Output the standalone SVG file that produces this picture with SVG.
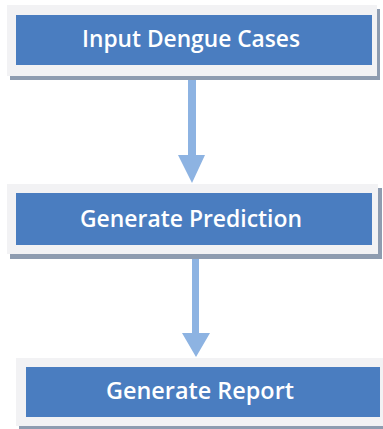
<svg xmlns="http://www.w3.org/2000/svg" width="383" height="429" viewBox="0 0 383 429">
  <style>
    .shadow { fill: #8e9cb0; }
    .frame { fill: #f2f2f4; }
    .fill { fill: #4a7dc0; }
    .label { fill: #ffffff; font-family: "Open Sans", "Liberation Sans", sans-serif; font-weight: 600; font-size: 23px; text-anchor: middle; }
    .conn { fill: #8db3e2; }
  </style>
  <rect width="383" height="429" fill="#ffffff"/>

  <g id="input-dengue-cases">
    <rect class="shadow" x="10" y="9" width="370" height="71"/>
    <rect class="frame" x="7" y="5" width="370" height="71"/>
    <rect class="fill" x="16" y="15" width="356" height="50"/>
    <text class="label" x="191" y="47" textLength="218" lengthAdjust="spacingAndGlyphs">Input Dengue Cases</text>
  </g>

  <g id="generate-prediction">
    <rect class="shadow" x="10" y="188" width="372" height="71"/>
    <rect class="frame" x="7" y="184" width="371" height="70"/>
    <rect class="fill" x="16" y="193" width="356" height="52"/>
    <text class="label" x="191" y="227" textLength="222" lengthAdjust="spacingAndGlyphs">Generate Prediction</text>
  </g>

  <g id="generate-report">
    <rect class="shadow" x="19" y="362" width="364" height="67"/>
    <rect class="frame" x="16" y="358" width="367" height="68"/>
    <rect class="fill" x="26" y="367" width="354" height="50"/>
    <text class="label" x="200" y="399" textLength="188" lengthAdjust="spacingAndGlyphs">Generate Report</text>
  </g>

  <g id="connectors">
    <path class="conn" d="M188,80 H196 V155 H205 L192,183 L178,155 H188 Z"/>
    <path class="conn" d="M192,259 H199 V333 H210 L196,357 L182,333 H192 Z"/>
  </g>
</svg>
